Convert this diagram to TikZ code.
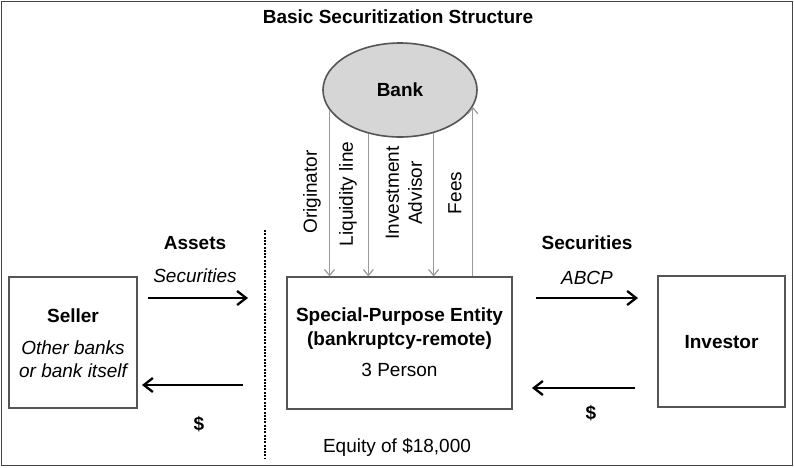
\documentclass[tikz,border=0pt]{standalone}
\usepackage{fontspec}
\setmainfont{Liberation Sans}
\usetikzlibrary{shapes.geometric,arrows.meta}
\definecolor{framec}{HTML}{444444}
\definecolor{boxc}{HTML}{555555}
\definecolor{bankfill}{HTML}{D6D6D6}
\definecolor{thinarr}{HTML}{9A9A9A}
\tikzset{
  box/.style={draw=boxc,line width=1.2pt,rectangle,inner sep=0pt},
  txt/.style={inner sep=0pt,font=\fontsize{19}{23}\selectfont},
  btxt/.style={txt,font=\fontsize{19}{23}\selectfont\bfseries},
  itxt/.style={txt,font=\fontsize{19}{23}\selectfont\itshape},
  rtxt/.style={txt,rotate=90,align=center},
  bigarr/.style={line width=2.3pt,-{Straight Barb[length=9pt,width=14pt,line width=2.3pt]}},
  smallarr/.style={draw=thinarr,line width=1.2pt,-{Straight Barb[length=6pt,width=10pt,line width=1.2pt]}},
}
\begin{document}
\begin{tikzpicture}[x=1pt,y=-1pt]
\useasboundingbox (0,0) rectangle (794,467);
\draw[draw=framec,line width=1.8pt] (1.5,1.5) rectangle (792.5,465.5);
\node[btxt] (title) at (398,17) {Basic Securitization Structure};
% boxes
\node[box,minimum width=128pt,minimum height=131pt] (seller) at (73,342.5) {};
\node[box,minimum width=225pt,minimum height=132pt] (spe) at (399.5,343) {};
\node[box,minimum width=127pt,minimum height=131pt] (investor) at (721.5,341.5) {};
\node[ellipse,draw=boxc,fill=bankfill,line width=1.6pt,inner sep=0pt,minimum width=154pt,minimum height=94pt] (bank) at (400,90) {};
\node[btxt] (banklbl) at (bank.center) {Bank};
% box texts
\node[btxt] (sellerlbl) at (73,316) {Seller};
\node[itxt] (seller2) at (73,348) {Other banks};
\node[itxt] (seller3) at (73,371) {or bank itself};
\node[btxt] (spe1) at (399.5,317) {Special-Purpose Entity};
\node[btxt] (spe2) at (399.5,341) {(bankruptcy-remote)};
\node[txt] (spe3) at (399.5,370) {3 Person};
\node[btxt] (investorlbl) at (721.5,342) {Investor};
\node[txt] (equity) at (397,447) {Equity of \$18,000};
% vertical arrows
\draw[smallarr] (bank.-164.4) -- (spe.north -| bank.-164.4);
\draw[smallarr] (bank.-126.9) -- (spe.north -| bank.-126.9);
\draw[smallarr] (bank.-52.1) -- (spe.north -| bank.-52.1);
\draw[smallarr] (spe.north -| bank.-13) -- (bank.-13);
\node[rtxt] (orig) at (312,192) {Originator};
\node[rtxt] (liq) at (348,194) {Liquidity line};
\node[rtxt] (inv) at (404,193) {Investment\\Advisor};
\node[rtxt] (fees) at (455,193) {Fees};
% dashed divider
\coordinate (dtop) at (265,230);
\coordinate (dbot) at (265,458);
\draw[line width=2.4pt,dash pattern=on 2pt off 1.3pt] (dtop) -- (dbot);
% left flows
\node[btxt] (assets) at (195,243) {Assets};
\node[itxt] (secl) at (195,276) {Securities};
\coordinate (la1) at (148,298);
\coordinate (la2) at (248,298);
\draw[bigarr] (la1) -- (la2);
\coordinate (lb1) at (243,385);
\coordinate (lb2) at (142,385);
\draw[bigarr] (lb1) -- (lb2);
\node[btxt] (dollarl) at (199,424) {\$};
% right flows
\node[btxt] (secr) at (587,243) {Securities};
\node[itxt] (abcp) at (587,278) {ABCP};
\coordinate (ra1) at (536,298);
\coordinate (ra2) at (638,298);
\draw[bigarr] (ra1) -- (ra2);
\coordinate (rb1) at (635,388);
\coordinate (rb2) at (532,388);
\draw[bigarr] (rb1) -- (rb2);
\node[btxt] (dollarr) at (591,413) {\$};
\end{tikzpicture}
\end{document}
